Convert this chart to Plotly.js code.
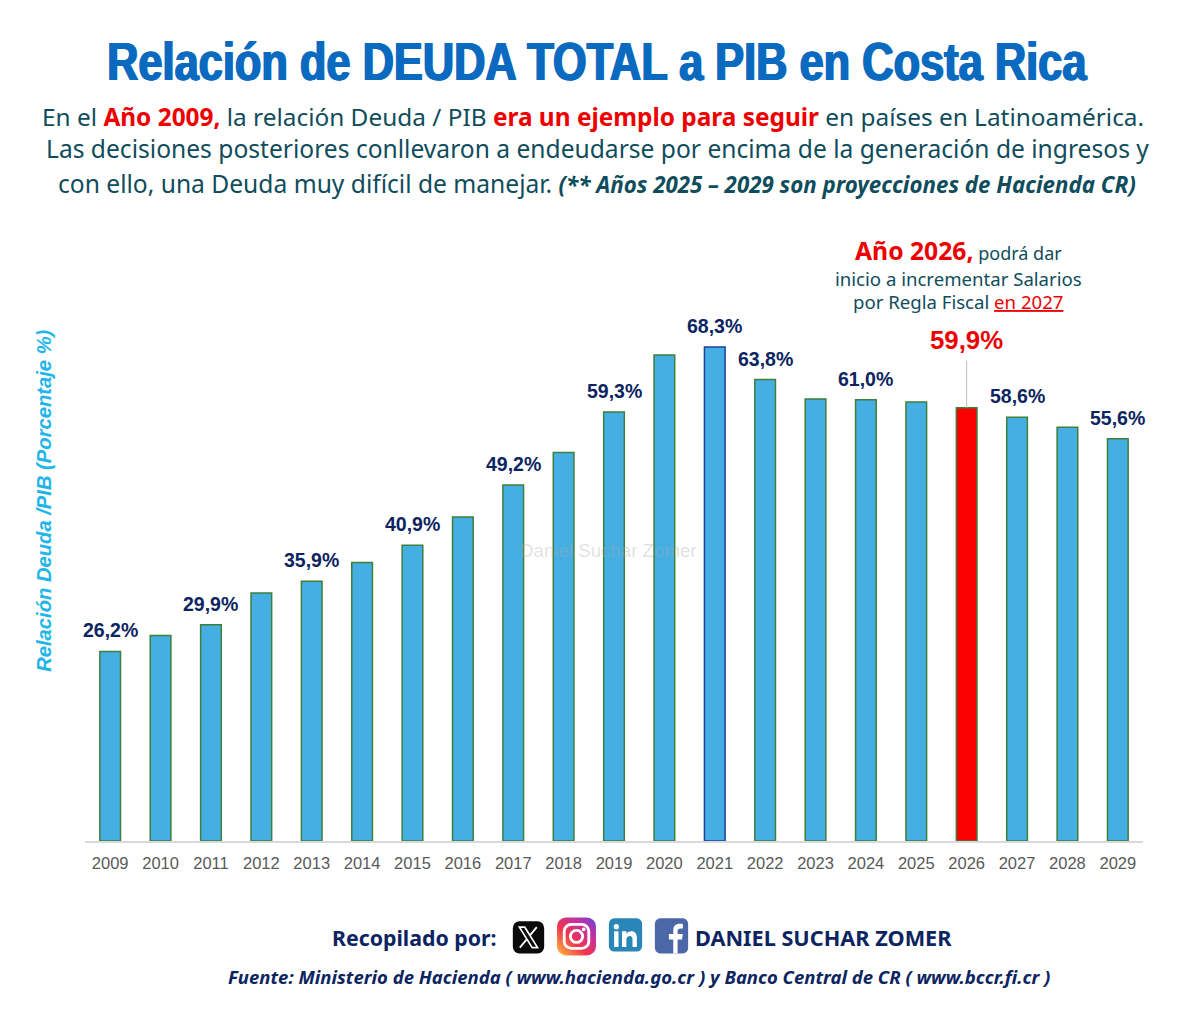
<!DOCTYPE html>
<html><head><meta charset="utf-8">
<script src="https://cdn.plot.ly/plotly-3.0.1.min.js"></script>
<style>html,body{margin:0;padding:0;background:#fff}#c{width:1200px;height:1034px}</style></head>
<body><div id="c"></div>
<script>
const years=['2009','2010','2011','2012','2013','2014','2015','2016','2017','2018','2019','2020','2021','2022','2023','2024','2025','2026','2027','2028','2029'];
const values=[26.2,28.4,29.9,34.3,35.9,38.5,40.9,44.8,49.2,53.7,59.3,67.2,68.3,63.8,61.1,61.0,60.7,59.9,58.6,57.2,55.6];
const labelledYears=['2009','2011','2013','2015','2017','2019','2021','2022','2024','2027','2029'];
const labelTexts=['26,2%','29,9%','35,9%','40,9%','49,2%','59,3%','68,3%','63,8%','61,0%','58,6%','55,6%'];
const highlightYear='2026', highlightText='59,9%', peakYear='2021';

const W=1200,H=1034,L=85,R=1143,T=300,B=841.5;
const px=x=>(x-L)/(R-L), py=y=>(B-y)/(B-T);
const TEAL='#0f4c5c',NAVY='#0c2461',RED='#ee0000',BLUE='#0a6abf';
const BODY='"Noto Sans","Open Sans",sans-serif';
const ARIAL='"Liberation Sans",Arial,sans-serif';
const note=(x,y,text,size,color,extra={})=>Object.assign({xref:'paper',yref:'paper',x:px(x),y:py(y),text,showarrow:false,xanchor:'center',yanchor:'middle',font:{size,color,family:BODY}},extra);
const R_=t=>`<span style="color:${RED}"><b>${t}</b></span>`;

const annotations=[
 note(597,61,'<b>Relación de DEUDA TOTAL a PIB en Costa Rica</b>',44,BLUE,{font:{size:44,color:BLUE,family:ARIAL,shadow:`1px 0 ${BLUE}, -1px 0 ${BLUE}`}}),
 note(593,116,`En el ${R_('Año 2009,')} la relación Deuda / PIB ${R_('era un ejemplo para seguir')} en países en Latinoamérica.`,24.4,TEAL),
 note(597,148,'Las decisiones posteriores conllevaron a endeudarse por encima de la generación de ingresos y',24.6,TEAL),
 note(597,183,'con ello, una Deuda muy difícil de manejar. <b><i style="font-size:22.300px">(** Años 2025 – 2029 son proyecciones de Hacienda CR)</i></b>',24.6,TEAL),
 note(958,250,`<span style="font-size:24.700px;font-family:${ARIAL}">${R_('Año 2026,')}</span> podrá dar`,18,TEAL),
 note(958,278,'inicio a incrementar Salarios',18.6,TEAL),
 note(958,302,`por Regla Fiscal <u style="color:${RED}">en 2027</u>`,18.6,TEAL),
 note(44,501,'<b><i>Relación Deuda /PIB (Porcentaje %)</i></b>',20.2,'#22b5ea',{textangle:-90,font:{size:20.2,color:'#22b5ea',family:ARIAL}}),
 note(608,551,'Daniel Suchar Zomer',18.7,'rgba(170,170,170,0.35)',{font:{size:18.7,color:'rgba(170,170,170,0.35)',family:ARIAL}}),
 note(414,938,'<b>Recopilado por:</b>',21.3,NAVY),
 note(823,938,'<b>DANIEL SUCHAR ZOMER</b>',21.7,NAVY),
 note(639,977,'<b><i>Fuente: Ministerio de Hacienda ( www.hacienda.go.cr ) y Banco Central de CR ( www.bccr.fi.cr )</i></b>',18.5,NAVY),
];
labelledYears.forEach((y,i)=>{const k=years.indexOf(y);annotations.push({x:k,y:values[k],xref:'x',yref:'y',text:`<b>${labelTexts[i]}</b>`,showarrow:false,yshift:21,yanchor:'middle',font:{size:19.5,color:NAVY,family:ARIAL}})});
const hi=years.indexOf(highlightYear);
annotations.push({x:hi,y:values[hi],xref:'x',yref:'y',text:`<b>${highlightText}</b>`,showarrow:false,yshift:68,yanchor:'middle',font:{size:25.8,color:RED,family:ARIAL}});

const svg=s=>'data:image/svg+xml;utf8,'+encodeURIComponent(`<svg xmlns="http://www.w3.org/2000/svg" viewBox="0 0 40 40">${s}</svg>`);
const icon=(x0,x1,y0,y1,s)=>({source:svg(s),xref:'paper',yref:'paper',x:px(x0),y:py(y0),sizex:(x1-x0)/(R-L),sizey:(y1-y0)/(B-T),xanchor:'left',yanchor:'top',sizing:'stretch',layer:'above'});
const images=[
 icon(512,545,921,955,'<rect x="1" y="1" width="38" height="38" rx="8" fill="#0a0a0a"/><path d="M9 8h6.500l15.500 24h-6.500z" fill="none" stroke="#fff" stroke-width="2"/><path d="M30 8L21.500 18M18 22L9.500 32" stroke="#fff" stroke-width="2.200"/>'),
 icon(556,597,917,957,'<defs><linearGradient id="g" x1="0" y1="1" x2="1" y2="0"><stop offset="0" stop-color="#fdc13c"/><stop offset=".4" stop-color="#f0354f"/><stop offset=".75" stop-color="#c02fa8"/><stop offset="1" stop-color="#5a4fd8"/></linearGradient></defs><rect x="1" y="1" width="38" height="38" rx="9" fill="url(#g)"/><rect x="8" y="8" width="24" height="24" rx="7" fill="none" stroke="#fff" stroke-width="2.800"/><circle cx="20" cy="20" r="6" fill="none" stroke="#fff" stroke-width="2.800"/><circle cx="27" cy="13" r="1.800" fill="#fff"/>'),
 icon(608,643,918,955,'<rect x="1" y="1" width="38" height="36" rx="6" fill="#2b86b8"/><rect x="7" y="15" width="5" height="17" fill="#fff"/><circle cx="9.500" cy="10" r="3" fill="#fff"/><path d="M16 15h5v3c2-4 12-5 12 4v10h-5V23c0-4-7-4-7 1v8h-5z" fill="#fff"/>'),
 icon(654,689,918,955,'<rect x="1" y="1" width="38" height="38" rx="6" fill="#4c67a8"/><path d="M22 39V24h-5v-6h5v-4c0-6 4-8 11-7v5c-4 0-6 0-6 3v3h6l-1 6h-5v15z" fill="#fff"/>'),
];

Plotly.newPlot('c',[{
 type:'bar',x:years,y:values,width:0.41,hoverinfo:'skip',
 marker:{color:years.map(y=>y===highlightYear?'#fa0000':'#45afe3'),
 line:{color:years.map(y=>y===peakYear?'#1f3f9e':'#3d7f3d'),width:1.5}}
}],{
 width:W,height:H,showlegend:false,paper_bgcolor:'#fff',plot_bgcolor:'#fff',
 margin:{l:L,r:W-R,t:T,b:H-B,pad:0},
 xaxis:{type:'category',range:[-0.5,20.5],showgrid:false,showline:true,linecolor:'#d9d9d9',linewidth:1.5,ticks:'',ticklen:0,tickfont:{size:16.5,color:'#595959',family:ARIAL},fixedrange:true,automargin:false,ticklabelstandoff:6},
 yaxis:{range:[0,(B-T)/7.24],visible:false,fixedrange:true},
 shapes:[{type:'line',xref:'x',yref:'y',x0:hi,x1:hi,y0:values[hi],y1:66.4,line:{color:'#bdbdbd',width:1}}],
 annotations,images
},{displayModeBar:false,responsive:false}).then(()=>{
 // taller, slightly condensed headline, as in the reference's narrow face
 const t=document.querySelector('.annotation[data-index="0"] text');
 if(t){t.style.transformBox='fill-box';t.style.transformOrigin='center';t.style.transform='scale(0.986,1.2)';}
});
</script></body></html>
